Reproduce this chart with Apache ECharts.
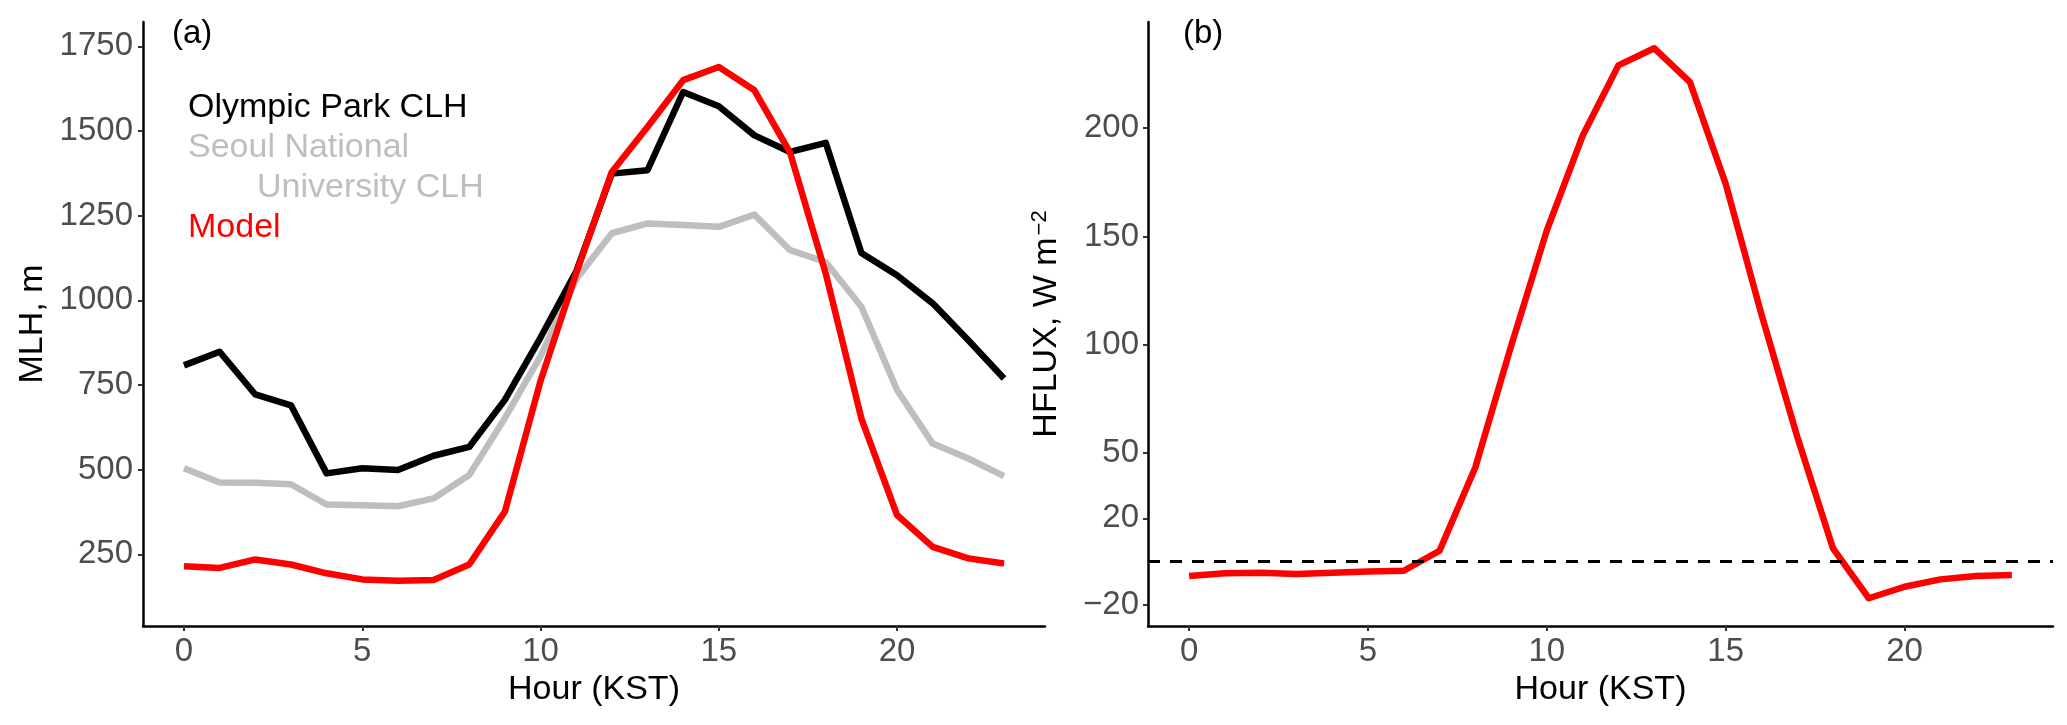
<!DOCTYPE html>
<html>
<head>
<meta charset="utf-8">
<script src="https://cdn.jsdelivr.net/npm/echarts@6/dist/echarts.min.js"></script>
<style>
  html, body { margin: 0; padding: 0; background: #ffffff; }
  #chart { width: 2067px; height: 725px; }
</style>
</head>
<body>
<div id="chart"></div>
<script>
// ---- data ----
const hours = [0,1,2,3,4,5,6,7,8,9,10,11,12,13,14,15,16,17,18,19,20,21,22,23];
const olympicParkCLH = [808,848,722,690,489,504,499,541,567,706,890,1085,1374,1384,1615,1573,1487,1438,1465,1140,1074,991,882,769];
const snuCLH = [504,462,461,457,397,395,392,415,484,652,835,1062,1198,1227,1222,1217,1253,1148,1113,981,735,577,533,481];
const modelMLH = [215,210,235,220,194,176,172,174,220,376,762,1080,1379,1512,1650,1689,1620,1436,1079,651,366,272,238,223];
const modelHFLUX = [-6.6,-5.4,-5.1,-5.7,-5.1,-4.6,-4.2,5.0,43.4,99.4,152.8,196.4,228.9,236.8,221.2,174.2,114,57.6,6.1,-16.9,-11.6,-8.2,-6.6,-6.2];
const hourTicks = [0,5,10,15,20];
const mlhTicks = [250,500,750,1000,1250,1500,1750];
const hfluxTicks = [-20,20,50,100,150,200];

const FONT = "'Liberation Sans', Arial, Helvetica, sans-serif";
const pairs = arr => hours.map((h, i) => [h, arr[i]]);
const plainFmt = v => String(v).replace('-', '\u2212');

function xAxisDef(gridIndex) {
  return {
    type: 'value', gridIndex: gridIndex, min: -1.15, max: 24.15,
    name: 'Hour (KST)', nameLocation: 'middle', nameGap: 44,
    nameTextStyle: { fontSize: 34, color: '#000000', fontFamily: FONT },
    axisLine: { show: true, onZero: false, lineStyle: { color: '#000000', width: 2.5 } },
    axisTick: { show: true, length: 5, customValues: hourTicks, lineStyle: { color: '#333333', width: 2 } },
    axisLabel: { customValues: hourTicks, formatter: plainFmt, fontSize: 33, color: '#4D4D4D', fontFamily: FONT, margin: 9 },
    splitLine: { show: false }
  };
}

function lineSeries(name, arr, color, xi, yi, z) {
  return {
    name: name, type: 'line', xAxisIndex: xi, yAxisIndex: yi,
    data: pairs(arr), symbol: 'none', showSymbol: false, z: z,
    lineStyle: { color: color, width: 6.5, join: 'round', cap: 'butt' },
    silent: true, animation: false
  };
}

const chart = echarts.init(document.getElementById('chart'), null, { renderer: 'canvas' });

const hfluxSeries = lineSeries('Model HFLUX', modelHFLUX, '#FF0000', 1, 1, 3);
hfluxSeries.markLine = {
  silent: true, symbol: ['none', 'none'], label: { show: false },
  lineStyle: { color: '#000000', type: [12, 10], width: 3 },
  data: [{ yAxis: 0 }], animation: false
};

chart.setOption({
  animation: false,
  backgroundColor: '#ffffff',
  grid: [
    { left: 143, top: 22, width: 902, height: 604 },
    { left: 1148, top: 22, width: 905, height: 604 }
  ],
  xAxis: [xAxisDef(0), xAxisDef(1)],
  yAxis: [
    {
      type: 'value', gridIndex: 0, min: 38.4, max: 1821.7,
      name: 'MLH, m', nameLocation: 'middle', nameGap: 93,
      nameTextStyle: { fontSize: 34, color: '#000000', fontFamily: FONT },
      axisLine: { show: true, onZero: false, lineStyle: { color: '#000000', width: 2.5 } },
      axisTick: { show: true, length: 5, customValues: mlhTicks, lineStyle: { color: '#333333', width: 2 } },
      axisLabel: { customValues: mlhTicks, formatter: plainFmt, fontSize: 33, color: '#4D4D4D', fontFamily: FONT, margin: 10 },
      splitLine: { show: false }
    },
    {
      type: 'value', gridIndex: 1, min: -29.7, max: 248.9,
      name: 'HFLUX, W m{sup|\u22122}', nameLocation: 'middle', nameGap: 83,
      nameTextStyle: {
        fontSize: 34, color: '#000000', fontFamily: FONT,
        rich: { sup: { fontSize: 22, color: '#000000', fontFamily: FONT, verticalAlign: 'top', padding: [0, 0, 14, 2] } }
      },
      axisLine: { show: true, onZero: false, lineStyle: { color: '#000000', width: 2.5 } },
      axisTick: { show: true, length: 5, customValues: hfluxTicks, lineStyle: { color: '#333333', width: 2 } },
      axisLabel: { customValues: hfluxTicks, formatter: plainFmt, fontSize: 33, color: '#4D4D4D', fontFamily: FONT, margin: 9 },
      splitLine: { show: false }
    }
  ],
  series: [
    lineSeries('Seoul National University CLH', snuCLH, '#BEBEBE', 0, 0, 2),
    lineSeries('Olympic Park CLH', olympicParkCLH, '#000000', 0, 0, 3),
    lineSeries('Model', modelMLH, '#FF0000', 0, 0, 4),
    hfluxSeries
  ],
  graphic: [
    { type: 'text', x: 172, y: 34, style: { text: '(a)', fontSize: 33, fontFamily: FONT, fill: '#000000', align: 'left', verticalAlign: 'middle' } },
    { type: 'text', x: 1183, y: 34, style: { text: '(b)', fontSize: 33, fontFamily: FONT, fill: '#000000', align: 'left', verticalAlign: 'middle' } },
    { type: 'text', x: 188, y: 108, style: { text: 'Olympic Park CLH', fontSize: 34, fontFamily: FONT, fill: '#000000', align: 'left', verticalAlign: 'middle' } },
    { type: 'text', x: 188, y: 148, style: { text: 'Seoul National', fontSize: 34, fontFamily: FONT, fill: '#BEBEBE', align: 'left', verticalAlign: 'middle' } },
    { type: 'text', x: 257, y: 188, style: { text: 'University CLH', fontSize: 34, fontFamily: FONT, fill: '#BEBEBE', align: 'left', verticalAlign: 'middle' } },
    { type: 'text', x: 188, y: 228, style: { text: 'Model', fontSize: 34, fontFamily: FONT, fill: '#FF0000', align: 'left', verticalAlign: 'middle' } }
  ]
});
</script>
</body>
</html>
